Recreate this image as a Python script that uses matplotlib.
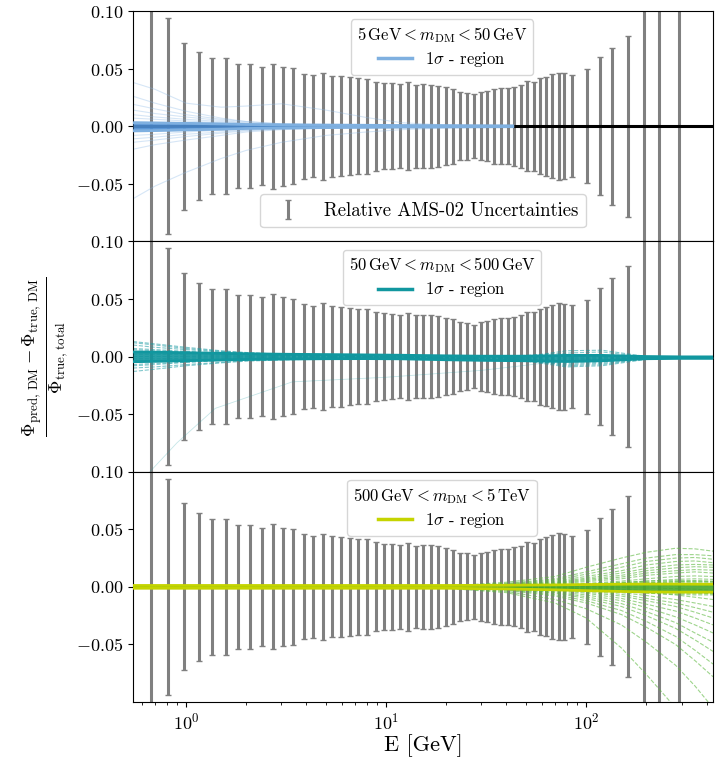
import numpy as np
import matplotlib
matplotlib.use("Agg")
import matplotlib.pyplot as plt
from matplotlib.lines import Line2D

plt.rcParams['font.family'] = 'serif'
plt.rcParams['font.serif'] = ['cmr10']
plt.rcParams['mathtext.fontset'] = 'cm'
plt.rcParams['axes.formatter.use_mathtext'] = True

# ---------------- AMS-02 relative uncertainties ----------------
E_bins = [0.67, 0.817, 0.975, 1.156, 1.352, 1.577, 1.81, 2.09, 2.385, 2.71,
          3.05, 3.44, 3.87, 4.33, 4.83, 5.37, 5.95, 6.59, 7.28, 8.04,
          8.87, 9.75, 10.7, 11.7, 12.8, 14.1, 15.3, 16.8, 18.2, 19.9,
          21.5, 23.4, 25.4, 27.5, 29.9, 32.1, 34.7, 37.6, 40.5, 43.7,
          47.1, 50.8, 54.7, 58.8, 62.9, 67.7, 72.8, 77.5, 85.0, 100.5,
          117.5, 135.5, 162.0, 194.0, 232.0, 292.0]
rel_err = [0.5, 0.094, 0.0725, 0.064, 0.059, 0.0588, 0.0536, 0.0536, 0.0513, 0.0543,
           0.0515, 0.0502, 0.0457, 0.0443, 0.0463, 0.0438, 0.0434, 0.0423, 0.0415, 0.0414,
           0.0386, 0.0375, 0.0373, 0.0364, 0.0380, 0.0359, 0.0364, 0.0362, 0.0353, 0.0338,
           0.0324, 0.0296, 0.0292, 0.0276, 0.0297, 0.0306, 0.0324, 0.0332, 0.0332, 0.0344,
           0.0359, 0.0390, 0.0385, 0.0417, 0.0430, 0.0450, 0.0465, 0.0460, 0.0445, 0.0495,
           0.0598, 0.0680, 0.0785, 0.5, 0.5, 0.5]

# ---------------- panel 1 : 5 GeV < m_DM < 50 GeV (values in 1e-3) ----------------
E_p1 = [0.543, 0.7, 1, 1.5, 2, 3, 5, 8, 12, 20, 30, 43]
lines_p1 = [
    [19, 15, 10, 6, 4, 2, 1, 0.5, 0, 0, 0, 0],
    [14, 11, 8, 5, 3, 1.5, 0.8, 0.3, 0, 0, 0, 0],
    [10, 8, 6, 4, 2.5, 1.2, 0.5, 0.2, 0, 0, 0, 0],
    [7, 6, 4.5, 3, 2, 1, 0.5, 0, 0, 0, 0, 0],
    [4, 3.5, 3, 2, 1, 0.5, 0.3, 0, 0, 0, 0, 0],
    [2, 2, 1.5, 1, 0.5, 0.3, 0, 0, 0, 0, 0, 0],
    [-2, -2, -1.5, -1, -0.5, -0.3, 0, 0, 0, 0, 0, 0],
    [-5, -4.5, -3.5, -2.5, -1.5, -1, -0.5, -0.2, 0, 0, 0, 0],
    [-8, -7, -5, -3.5, -2.5, -1.5, -0.8, -0.3, 0, 0, 0, 0],
    [-11, -9.5, -7, -5, -3.5, -2, -1, -0.5, -0.2, 0, 0, 0],
    [-14, -12, -9, -6, -4, -2.5, -1.5, -0.8, -0.4, 0, 0, 0],
    [26, 20, 13, 7, 4, 2, 1, 0.5, 0, 0, 0, 0],
    [-20, -16, -12, -8, -5, -3, -1.5, -0.5, 0, 0, 0, 0],
    [38, 32, 20, 16.5, 17.5, 19.5, 14, 7.5, 3, 1, 0.3, 0],
    [-63, -52, -40, -28, -21, -14, -8, -5, -3, -1.5, -0.8, -0.3],
]
band_p1_hi = [3, 2.8, 2.5, 2, 1.5, 1.2, 1, 0.8, 0.6, 0.5, 0.4, 0.3]
band_p1_lo = [-4, -3.8, -3.2, -2.6, -2, -1.6, -1.2, -1, -0.8, -0.6, -0.5, -0.4]

# ---------------- panel 2 : 50 GeV < m_DM < 500 GeV ----------------
E_p2 = [0.543, 0.7, 1, 1.5, 2, 3, 5, 8, 12, 20, 30, 50, 80, 120, 200, 300, 431]
lines_p2 = [
    [13, 11, 8, 5, 3.5, 2, 1.5, 1, 0.5, 0, -0.5, -0.5, 0.5, 1, -0.5, -1, -1],
    [10, 8, 6, 4, 3, 2, 1, 0.5, 0, -0.5, -1, -1, 0, 0, -0.8, -1, -1],
    [7, 6, 4.5, 3, 2, 1.5, 1, 0.5, 0, -1, -1.5, -1.5, -1, -1, -1, -1, -1],
    [4, 3.5, 3, 2, 1.5, 1, 0.5, 0, -0.5, -1.5, -2, -2, -2, -1.5, -1, -1, -1],
    [2, 2, 1.5, 1, 0.5, 0.5, 0, 0, -0.5, -1.5, -2.5, -2.5, -3, -2.5, -1.2, -1, -1],
    [0, 0, 0, 0, 0, 0, 0, -0.5, -1, -2, -2.5, -3, -4, -3, -1.2, -1, -1],
    [-2, -2, -1.5, -1, -1, -0.5, -0.5, -0.5, -1, -2, -3, -3.5, -5, -4, -1.5, -1, -1],
    [-4, -3.5, -3, -2, -1.5, -1, -1, -1, -1.5, -2.5, -3, -4, -6, -5, -1.5, -1, -1],
    [-7, -6, -5, -3.5, -2.5, -2, -1.5, -1.5, -2, -2.5, -3, -3.5, -7, -6, -2, -1, -1],
    [-10, -9, -7, -5, -3.5, -2.5, -2, -1.5, -1.5, -2, -2, -3, -8, -7, -2, -1, -1],
    [-13, -11, -8, -5.5, -4, -3, -2, -1.5, -1.5, -2, -2.5, -4, -9, -8, -2.5, -1, -1],
    [12, 10, 7, 4.5, 3, 2, 1.5, 1, 0.5, 0, 0, 1, 3, 4, -0.5, -1, -1],
    [6, 5, 4, 2.5, 2, 1, 0.5, 0, 0, -0.5, -1, 0, 5, 5.5, 0, -1, -1],
    [-8, -7, -5, -3, -2, -1.5, -1, -1, -1, -1.5, -1.5, -2, -4, -3, -1, -1, -1],
]
E_p2_out = [0.66, 0.9, 1.4, 3.4, 10, 30, 60, 120]
line_p2_out = [-100, -75, -45, -22, -18, -12, -6, -2]
band_p2_hi = [4, 3.8, 3.3, 2.8, 2.4, 2.0, 1.7, 1.4, 1.1, 0.6, 0.3, 0.3, 1.0, 1.0, 0.0, -0.3, -0.3]
band_p2_lo = [-4.5, -4.2, -3.6, -3.0, -2.6, -2.2, -1.9, -1.8, -2.0, -2.8, -3.3, -3.7, -4.3, -3.7, -1.9, -1.6, -1.6]

# ---------------- panel 3 : 500 GeV < m_DM < 5 TeV ----------------
E_p3 = [0.543, 20, 40, 70, 100, 150, 200, 280, 350, 431]
lines_p3 = [
    [0, 0.5, 4, 9, 17, 25, 30, 33.5, 33, 31],
    [0, 0.5, 3, 7, 13, 20, 25, 28, 28, 27],
    [0, 0.4, 2.5, 6, 11, 17, 22, 25, 25.5, 24],
    [0, 0.3, 2, 5, 9, 14, 19, 22, 22.5, 21],
    [0, 0.3, 1.8, 4.2, 7.5, 12, 16, 19, 19.5, 19],
    [0, 0.3, 1.5, 3.5, 6.5, 10, 14, 16.5, 17.5, 17],
    [0, 0.2, 1.2, 3, 5.5, 8.5, 12, 14, 15, 14.5],
    [0, 0.2, 1, 2.5, 4.5, 7, 10, 12, 13, 12],
    [0, 0.2, 0.8, 1.8, 3, 5, 7, 9, 9.5, 9],
    [0, 0.1, 0.5, 1.2, 2, 3.5, 5, 6.5, 7, 6.5],
    [0, 0.1, 0.3, 0.8, 1.5, 2.5, 3.5, 4.5, 5, 4.5],
    [0, 0, 0.2, 0.5, 1, 1.5, 2, 2.5, 3, 2.5],
    [0, 0, 0.1, 0.2, 0.4, 0.6, 0.8, 1, 1, 0.8],
    [0, 0, 0, 0, 0, -0.5, -1, -1.5, -2, -3],
    [0, 0, -0.2, -0.5, -1, -2, -3, -4, -5, -6],
    [0, -0.1, -0.4, -1, -2, -3.5, -5, -7, -9, -11],
    [0, -0.2, -0.7, -1.5, -3, -5, -7.5, -11, -14, -17],
    [0, -0.2, -0.8, -2, -3.5, -6.5, -10, -14, -18, -22],
    [0, -0.3, -1, -2.5, -4.5, -8, -12, -17, -22, -27],
    [0, -0.3, -1.2, -3.2, -5.5, -10, -15, -21, -27, -33],
    [0, -0.4, -1.5, -4, -7, -12, -18, -26, -33, -40],
    [0, -0.4, -1.8, -4.8, -8.5, -14.5, -21.5, -31, -40, -48],
    [0, -0.5, -2, -5.5, -10, -17, -25, -36, -46, -56],
    [0, -0.6, -2.5, -6.8, -12, -20.5, -30, -43, -55, -67],
    [0, -0.7, -3, -8, -14, -24, -35, -50, -64, -78],
    [0, -1, -4, -11, -19, -33, -48, -68, -86, -105],
    [0, -1.2, -5, -14, -27, -53, -76, -105, -130, -150],
    [0, 0, 0.5, 1.5, 2.5, 4, 5, 5.5, 5.5, 5],
    [0, 0, -0.5, -1.5, -2.5, -4, -5.5, -6.5, -7, -7],
    [0, 0, 0.3, 0.8, 1.5, 2.5, 3, 3.5, 3.5, 3],
    [0, 0, -0.3, -1, -2, -3, -4, -4.5, -5, -5],
    [0, 0, 0.4, 1.1, 2, 3.2, 4, 4.5, 4.5, 4],
    [0, 0, -0.4, -1.2, -2.2, -3.5, -4.8, -5.5, -6, -6],
]
band_p3_hi = [1.2, 1.2, 1.4, 1.7, 2.0, 2.3, 2.4, 2.4, 2.3, 2.3]
band_p3_lo = [-1.2, -1.2, -1.8, -2.6, -3.3, -4.0, -4.4, -4.6, -4.6, -4.6]

titles = [r'$5\,\mathrm{GeV} < m_{\mathrm{DM}} < 50\,\mathrm{GeV}$',
          r'$50\,\mathrm{GeV} < m_{\mathrm{DM}} < 500\,\mathrm{GeV}$',
          r'$500\,\mathrm{GeV} < m_{\mathrm{DM}} < 5\,\mathrm{TeV}$']
band_colors = ['#7fb0e0', '#11979f', '#c5d400']   # 1 sigma boundary / legend colour
fill_colors = ['#4f8fd4', '#10959d', '#46a82e']   # inside of the band
line_colors = ['#8ab8e6', '#1a9aa2', '#5db83f']   # individual fits
line_alpha = [0.35, 0.55, 0.6]

fig, axes = plt.subplots(3, 1, sharex=True, figsize=(7.17, 7.61), dpi=100)
fig.subplots_adjust(left=0.1855, right=0.9944, top=0.9855, bottom=0.0775, hspace=0)

panel_data = [
    (E_p1, lines_p1, band_p1_hi, band_p1_lo, '-'),
    (E_p2, lines_p2, band_p2_hi, band_p2_lo, '--'),
    (E_p3, lines_p3, band_p3_hi, band_p3_lo, '--'),
]

for i, ax in enumerate(axes):
    E, lines, hi, lo, ls = panel_data[i]
    err = ax.errorbar(E_bins, np.zeros(len(E_bins)), yerr=rel_err, fmt='none',
                      ecolor='#808080', elinewidth=2.2, capsize=2.2, capthick=1.0,
                      zorder=1)
    if i == 0:
        ax.axhline(0, color='k', lw=2.2, zorder=1.5)
    for ln in lines:
        ax.plot(E, np.array(ln) * 1e-3, color=line_colors[i], lw=0.8, ls=ls,
                alpha=line_alpha[i], zorder=2)
    if i == 1:
        ax.plot(E_p2_out, np.array(line_p2_out) * 1e-3, color=line_colors[i],
                lw=0.6, alpha=0.25, zorder=2)
    hi = np.array(hi) * 1e-3
    lo = np.array(lo) * 1e-3
    ax.fill_between(E, lo, hi, color=fill_colors[i], alpha=0.9, lw=0, zorder=3)
    ax.plot(E, hi, color=band_colors[i], lw=2.0, zorder=3)
    ax.plot(E, lo, color=band_colors[i], lw=2.0, zorder=3)

    ax.set_xscale('log')
    ax.set_xlim(0.543, 431)
    ax.set_ylim(-0.1, 0.1)
    ax.set_yticks([-0.05, 0.0, 0.05, 0.10])
    ax.yaxis.set_major_formatter(matplotlib.ticker.FormatStrFormatter(r'$%.2f$'))
    ax.tick_params(labelsize=13)

    h = Line2D([], [], color=band_colors[i], lw=2.5)
    leg = ax.legend([h], [r'$1\sigma$ - region'], title=titles[i], loc='upper center',
                    bbox_to_anchor=(0.533, 1.0), fontsize=12, title_fontsize=12,
                    borderpad=0.35, labelspacing=0.3)
    if i == 0:
        ax.add_artist(leg)
        ax.legend([err], ['Relative AMS-02 Uncertainties'], loc='lower center',
                  bbox_to_anchor=(0.5, 0.02), fontsize=13.5, handlelength=2.2)

axes[1].set_ylabel(r'$\frac{\Phi_{\mathrm{pred,\,DM}} - \Phi_{\mathrm{true,\,DM}}}{\Phi_{\mathrm{true,\,total}}}$',
                   fontsize=19)
axes[2].set_xlabel('E [GeV]', fontsize=16, labelpad=1)

plt.savefig('out.png', dpi=100)
